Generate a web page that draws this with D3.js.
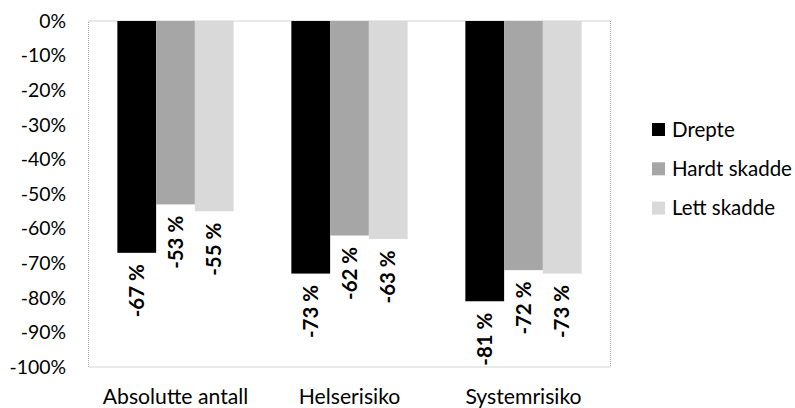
<!DOCTYPE html>
<html>
<head>
<meta charset="utf-8">
<script src="https://cdn.jsdelivr.net/npm/d3@7"></script>
<style>
  html, body { margin: 0; padding: 0; background: #fff; }
  svg { display: block; }
  text { font-family: Lato, "Noto Sans", sans-serif; fill: #000; }
</style>
</head>
<body>
<svg id="chart" width="795" height="408"></svg>
<script>
// Change in road casualties, by measure
const categories = ["Absolutte antall", "Helserisiko", "Systemrisiko"];
const seriesNames = ["Drepte", "Hardt skadde", "Lett skadde"];
const drepte = [-67, -73, -81];
const hardtSkadde = [-53, -62, -72];
const lettSkadde = [-55, -63, -73];
const yTicks = [0, -10, -20, -30, -40, -50, -60, -70, -80, -90, -100];

const seriesValues = [drepte, hardtSkadde, lettSkadde];
const colors = ["#000000", "#a6a6a6", "#d9d9d9"];

const svg = d3.select("#chart");
const plot = { left: 88.5, right: 610.5, top: 21, bottom: 367 };

const x0 = d3.scaleBand().domain(categories).range([plot.left, plot.right]).paddingInner(0).paddingOuter(0);
const x1 = d3.scaleBand().domain(seriesNames).range([0, x0.bandwidth()]).paddingOuter(0.745).paddingInner(0);
const y = d3.scaleLinear().domain([0, -100]).range([plot.top, plot.bottom]);

// plot area frame (dotted)
svg.append("rect")
  .attr("x", plot.left).attr("y", plot.top)
  .attr("width", plot.right - plot.left).attr("height", plot.bottom - plot.top)
  .attr("fill", "none").attr("stroke", "#a6a6a6").attr("stroke-width", 1)
  .attr("stroke-dasharray", "1,1");

// y axis labels
const yAxis = d3.axisLeft(y).tickValues(yTicks).tickSize(0).tickPadding(0)
  .tickFormat(d => d + "%");
svg.append("g").attr("transform", "translate(66,0)").call(yAxis)
  .call(g => g.select(".domain").remove())
  .call(g => g.selectAll("text").style("font-size", "19.4px").attr("fill", "#000"));

// category labels
const xAxis = d3.axisBottom(x0).tickSize(0).tickPadding(0);
svg.append("g").attr("transform", "translate(0,397)").call(xAxis)
  .call(g => g.select(".domain").remove())
  .call(g => g.selectAll("text").attr("dy", "0.35em").style("font-size", "21.2px").attr("fill", "#000"));

// bars
const rows = [];
categories.forEach((c, i) => seriesNames.forEach((s, j) => rows.push({ c, s, v: seriesValues[j][i], color: colors[j] })));

svg.append("g").selectAll("rect").data(rows).join("rect")
  .attr("x", d => x0(d.c) + x1(d.s))
  .attr("y", y(0))
  .attr("width", x1.bandwidth())
  .attr("height", d => y(d.v) - y(0))
  .attr("fill", d => d.color);

// value labels, rotated, below the bar ends
svg.append("g").selectAll("text").data(rows).join("text")
  .attr("transform", d => `translate(${x0(d.c) + x1(d.s) + x1.bandwidth() / 2},${y(d.v) + 11.5}) rotate(-90)`)
  .attr("text-anchor", "end")
  .attr("dy", "0.35em")
  .style("font-size", "20.4px")
  .style("font-weight", "bold")
  .text(d => d.v + " %");

// legend
const legend = svg.append("g").selectAll("g").data(seriesNames).join("g")
  .attr("transform", (d, i) => `translate(652,${129.5 + i * 39.3})`);
legend.append("rect").attr("x", 0).attr("y", -6.5).attr("width", 13).attr("height", 13)
  .attr("fill", (d, i) => colors[i]);
legend.append("text").attr("x", 20).attr("dy", "0.35em")
  .style("font-size", "20.5px").text(d => d);
</script>
</body>
</html>
